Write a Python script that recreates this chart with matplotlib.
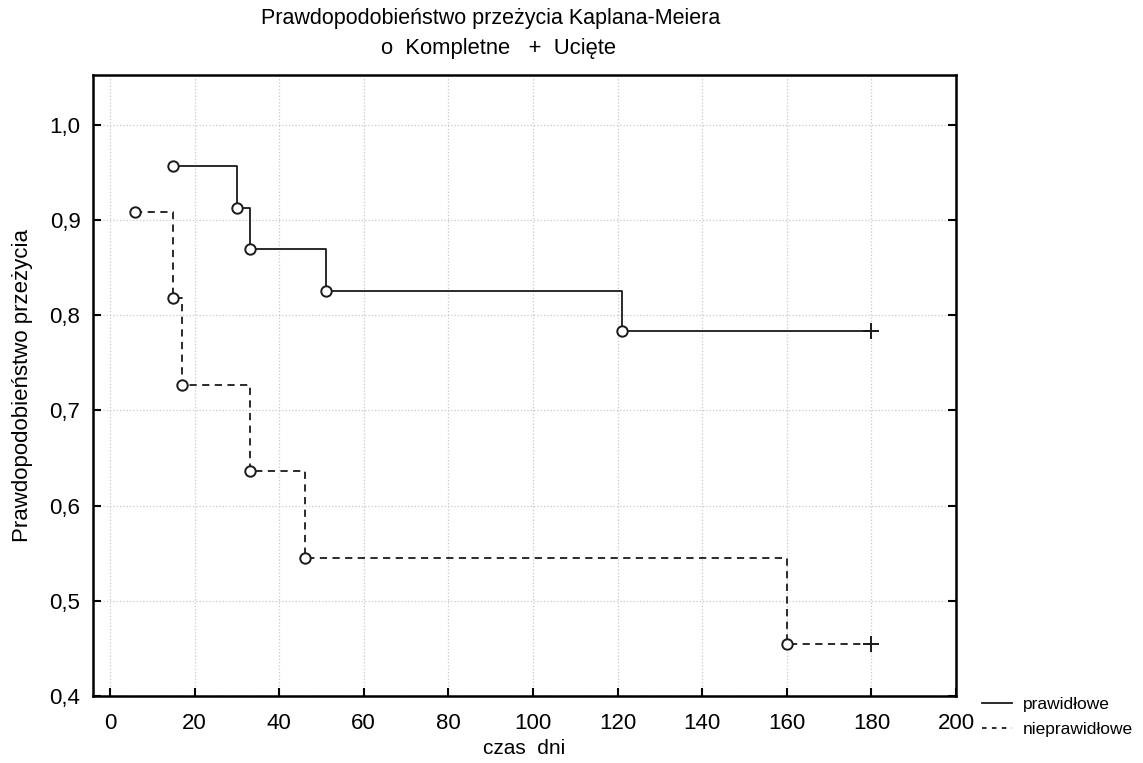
import matplotlib

matplotlib.use("Agg")
import matplotlib.pyplot as plt
from matplotlib.lines import Line2D

plt.rcParams["font.family"] = ["Liberation Sans", "DejaVu Sans"]

# Kaplan-Meier estimates
norm_t = [15, 30, 33, 51, 121]
norm_s = [0.957, 0.913, 0.870, 0.826, 0.783]
norm_cens_t = [180]
norm_cens_s = [0.783]

abn_t = [6, 15, 17, 33, 46, 160]
abn_s = [0.909, 0.818, 0.727, 0.636, 0.545, 0.455]
abn_cens_t = [180]
abn_cens_s = [0.455]

x_ticks = [0, 20, 40, 60, 80, 100, 120, 140, 160, 180, 200]
y_ticks = [0.4, 0.5, 0.6, 0.7, 0.8, 0.9, 1.0]
y_tick_labels = ["0,4", "0,5", "0,6", "0,7", "0,8", "0,9", "1,0"]

fig = plt.figure(figsize=(11.43, 7.63), dpi=100)
ax = fig.add_axes([93 / 1143, 1 - 696 / 763, (956 - 93) / 1143, (696 - 75) / 763])

for t, s, ct, cs, ls in [
    (norm_t, norm_s, norm_cens_t, norm_cens_s, "-"),
    (abn_t, abn_s, abn_cens_t, abn_cens_s, (0, (4, 3))),
]:
    ax.plot(t + ct, s + cs, drawstyle="steps-post", color="#1a1a1a", lw=1.3, ls=ls, zorder=3)
    ax.plot(t, s, "o", ms=7.5, mfc="white", mec="#1a1a1a", mew=1.4, zorder=4)
    ax.plot(ct, cs, "+", ms=11, color="#1a1a1a", mew=1.4, zorder=4)

ax.set_xlim(-4, 200)
ax.set_ylim(0.4, 1.0525)
ax.set_xticks(x_ticks)
ax.set_yticks(y_ticks)
ax.set_yticklabels(y_tick_labels)
ax.grid(True, color="#c8c8c8", ls=":", lw=0.9)
ax.tick_params(direction="in", length=6, width=1.5, labelsize=16, top=False, right=True)
ax.tick_params(axis="x", pad=12)
ax.tick_params(axis="y", pad=9)
for sp in ax.spines.values():
    sp.set_linewidth(1.8)

ax.set_xlabel("czas  dni", fontsize=15, labelpad=4)
ax.set_ylabel("Prawdopodobieństwo przeżycia", fontsize=16, labelpad=12)

fig.text(0.429, 0.976, "Prawdopodobieństwo przeżycia Kaplana-Meiera", ha="center", va="center", fontsize=15.5)
fig.text(0.436, 0.937, "o  Kompletne   +  Ucięte", ha="center", va="center", fontsize=15.8)

handles = [
    Line2D([], [], color="#1a1a1a", lw=1.3, ls="-"),
    Line2D([], [], color="#1a1a1a", lw=1.3, ls=(0, (2.5, 3))),
]
fig.legend(handles, ["prawidłowe", "nieprawidłowe"], loc="upper left",
           bbox_to_anchor=(975 / 1143, 1 - 690 / 763), frameon=False, fontsize=12.5,
           handlelength=1.75, handletextpad=0.63, labelspacing=0.55, borderaxespad=0)

fig.savefig("out.png", dpi=100)
